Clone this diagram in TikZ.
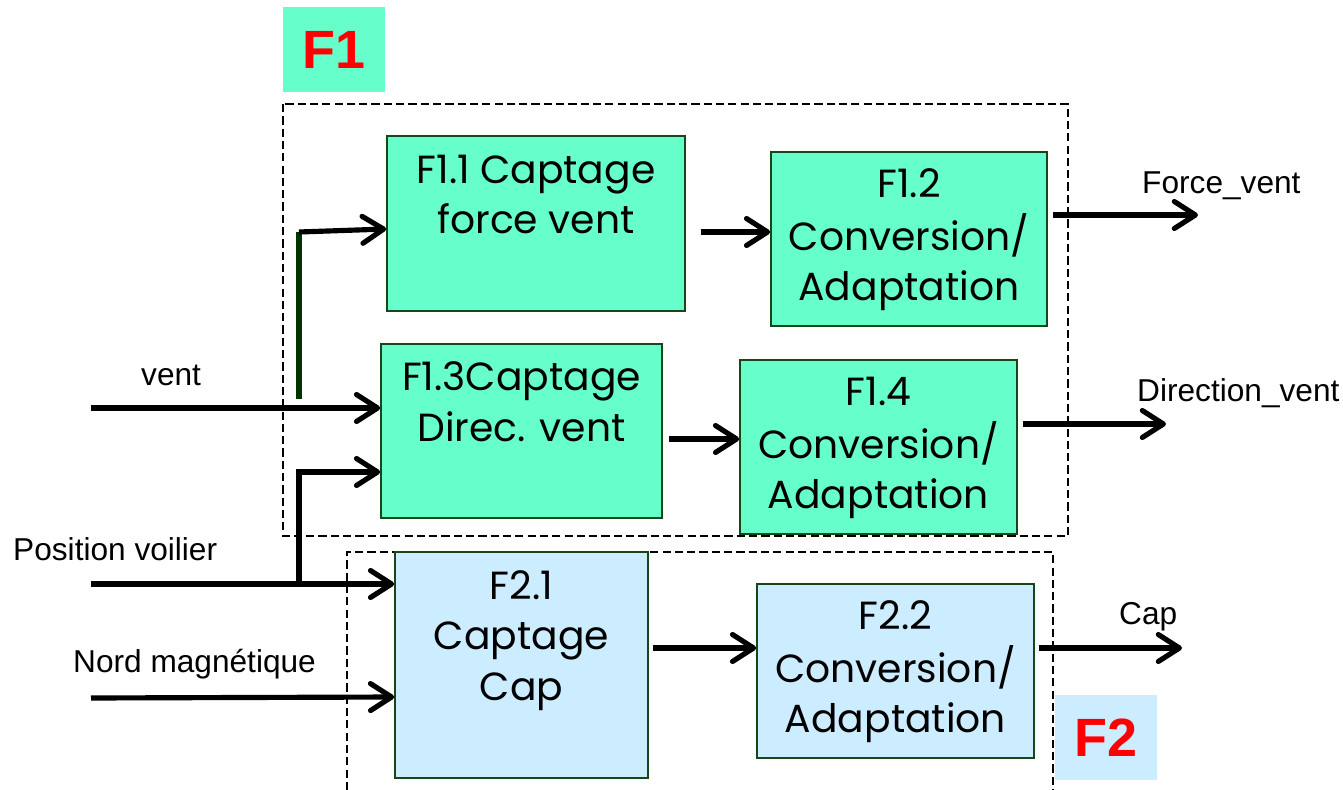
\documentclass[tikz,border=0pt]{standalone}
\usepackage{fontspec}
\setmainfont{Liberation Sans}
\newfontfamily\boxfont{Poppins}
\usetikzlibrary{arrows.meta}
\definecolor{gfill}{RGB}{102,255,204}
\definecolor{bfill}{RGB}{204,236,255}
\definecolor{bord}{RGB}{25,70,25}
\definecolor{dkgreen}{RGB}{0,51,0}
\begin{document}
\begin{tikzpicture}[x=0.03cm,y=-0.03cm,
  fbox/.style={draw=bord, line width=1.4pt, inner sep=0pt, align=center, font=\boxfont\fontsize{33.5}{43}\selectfont},
  gbox/.style={fbox, fill=gfill},
  bbox/.style={fbox, fill=bfill},
  frame/.style={draw=black, line width=1.2pt, dash pattern=on 7pt off 3.5pt},
  arr/.style={line width=4.4pt, -{Straight Barb[length=18pt,width=23pt,round]}},
  lbl/.style={font=\fontsize{27}{32}\selectfont, inner sep=0pt},
  tag/.style={inner sep=0pt, text=red, font=\bfseries\fontsize{46}{50}\selectfont, minimum width=3.06cm, minimum height=2.55cm}
]
\useasboundingbox (0,0) rectangle (1343,790);

% frames
\draw[frame] (283,104) rectangle (1068,536);
\draw[frame] (347,790) -- (347,552) -- (1053,552) -- (1053,790);

% tags
\node[tag, fill=gfill] (tag1) at (334,49.5) {F1};
\node[tag, fill=bfill] (tag2) at (1106,737.5) {F2};

% boxes
\node[gbox, minimum width=8.94cm, minimum height=5.25cm] (f11) at (536,223.5) {\strut F1.1 Captage\\\strut force vent\\\strut};
\node[gbox, minimum width=8.28cm, minimum height=5.22cm] (f12) at (909,239) {\strut F1.2\\\strut Conversion/\\\strut Adaptation};
\node[gbox, minimum width=8.43cm, minimum height=5.22cm] (f13) at (521.5,431) {\strut F1.3Captage\\\strut Direc. vent\\\strut};
\node[gbox, minimum width=8.31cm, minimum height=5.22cm] (f14) at (878.5,447) {\strut F1.4\\\strut Conversion/\\\strut Adaptation};
\node[bbox, minimum width=7.59cm, minimum height=6.78cm] (f21) at (521.5,665) {\strut F2.1\\\strut Captage\\\strut Cap\\\strut};
\node[bbox, minimum width=8.31cm, minimum height=5.22cm] (f22) at (895.5,671) {\strut F2.2\\\strut Conversion/\\\strut Adaptation};

% free ends
\coordinate (iv) at (91,408);
\coordinate (ip) at (91,584);
\coordinate (in) at (91,698);
\coordinate (j1) at (299,584);
\coordinate (g1) at (299,399);
\coordinate (g2) at (299,232);
\coordinate (o1) at (1198,215);
\coordinate (o2) at (1166,424);
\coordinate (o3) at (1182,648);

% connectors
\draw[dkgreen, line width=4.4pt] (g1) -- (g2);
\draw[arr] (g2) -- (f11.west |- 0,229);
\draw[arr] (iv) -- (f13.west |- iv);
\draw[arr] (ip) -- (f21.west |- ip);
\draw[arr] (j1) |- (f13.west |- 0,472);
\draw[arr] (in) -- (f21.west |- 0,697);
\draw[arr, shorten <=0.45cm] (f11.east |- 0,232) -- (f12.west |- 0,232);
\draw[arr, shorten <=0.18cm] (f13.east |- 0,439) -- (f14.west |- 0,439);
\draw[arr, shorten <=0.12cm] (f21.east |- 0,648) -- (f22.west |- 0,648);
\draw[arr, shorten <=0.15cm] (f12.east |- o1) -- (o1);
\draw[arr, shorten <=0.15cm] (f14.east |- o2) -- (o2);
\draw[arr, shorten <=0.12cm] (f22.east |- o3) -- (o3);

% labels
\node[lbl, anchor=base west] (lv) at (141,385) {vent};
\node[lbl, anchor=base west] (lp) at (13,560) {Position voilier};
\node[lbl, anchor=base west] (ln) at (73,672) {Nord magnétique};
\node[lbl, anchor=base west] (lf) at (1142,193) {Force\_vent};
\node[lbl, anchor=base west] (ld) at (1137,401) {Direction\_vent};
\node[lbl, anchor=base west] (lc) at (1119,624) {Cap};
\end{tikzpicture}
\end{document}
